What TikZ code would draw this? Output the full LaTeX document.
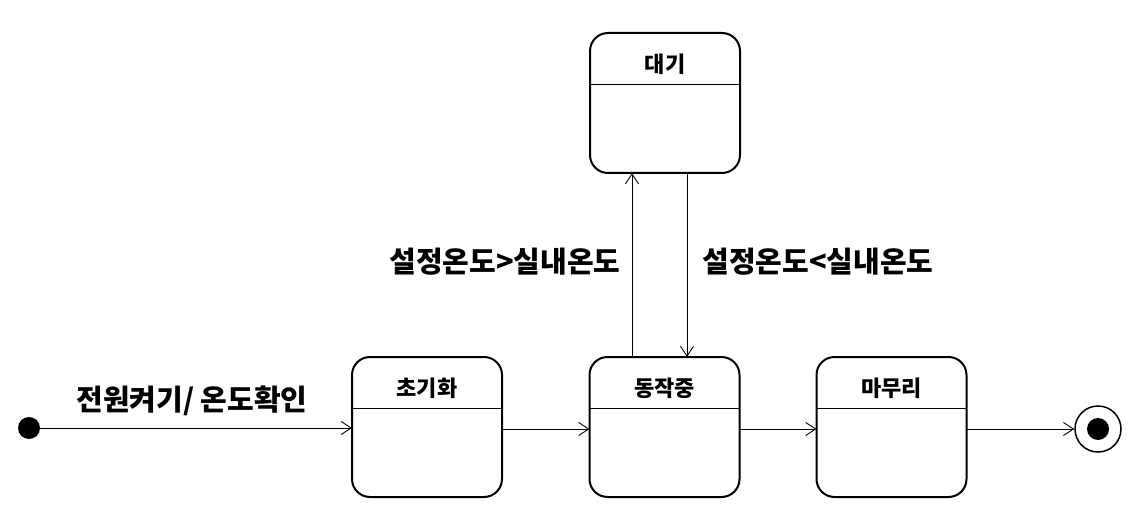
\documentclass[tikz,border=0pt]{standalone}
\usepackage{fontspec}
\setmainfont{Noto Sans CJK KR}
\usetikzlibrary{arrows.meta}
\begin{document}
\begin{tikzpicture}[x=1pt,y=-1pt,
  state/.style={draw,line width=2pt,rounded corners=18pt,minimum width=150pt,minimum height=140pt,inner sep=0pt,outer sep=0pt},
  stitle/.style={font=\bfseries\fontsize{22}{24}\selectfont},
  trans/.style={line width=0.9pt,-{Straight Barb[length=10pt,width=13pt,line width=0.9pt]}},
  lbl/.style={font=\bfseries\fontsize{29}{32}\selectfont,inner sep=0pt}]
\useasboundingbox (0,0) rectangle (1137,513);
% states
\node[state] (wait) at (665,103) {};
\node[state] (init) at (427,427) {};
\node[state] (run)  at (664.5,427) {};
\node[state] (fin)  at (891.5,427) {};
\foreach \s/\t in {wait/대기,init/초기화,run/동작중,fin/마무리}{
  \draw[line width=0.9pt] ([yshift=-51pt]\s.north west) -- ([yshift=-51pt]\s.north east);
  \node[stitle] (\s-t) at ([yshift=-31pt]\s.north) {\t};
}
% initial and final
\node[circle,fill,minimum size=22pt,inner sep=0pt] (ini) at (29,428) {};
\node[circle,draw,line width=1.5pt,minimum size=46pt,inner sep=0pt] (end) at (1098,429) {};
\node[circle,fill,minimum size=22pt,inner sep=0pt] (endin) at (1098,429) {};
% transitions
\draw[trans] (ini.east) -- (init.west |- ini.east);
\draw[trans] (init.east |- 0,429) -- (run.west |- 0,429);
\draw[trans] (run.east |- 0,429) -- (fin.west |- 0,429);
\draw[trans] (fin.east |- 0,429) -- (end.west);
\coordinate (upb) at (632,357);
\coordinate (upt) at (632,173);
\coordinate (dnt) at (687,173);
\coordinate (dnb) at (687,357);
\draw[trans] (run.north -| upb) -- (wait.south -| upt);
\draw[trans] (wait.south -| dnt) -- (run.north -| dnb);
% labels
\node[lbl] (l1) at (192,401) {전원켜기/ 온도확인};
\node[lbl] (l2) at (505,262) {설정온도>실내온도};
\node[lbl] (l3) at (818,262) {설정온도<실내온도};
\end{tikzpicture}
\end{document}
